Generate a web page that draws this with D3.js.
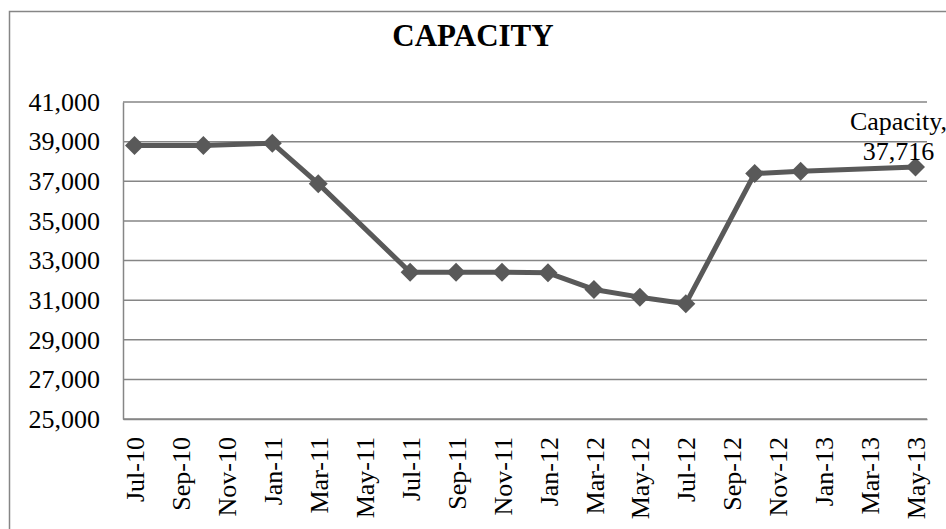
<!DOCTYPE html>
<html>
<head>
<meta charset="utf-8">
<script src="https://cdn.jsdelivr.net/npm/d3@7"></script>
<style>
  body { margin: 0; background: #fff; }
  text { font-family: "Liberation Serif", "Times New Roman", serif; fill: #000; }
</style>
</head>
<body>
<div class="chart"></div>
<script>
// data
var pointMonths = ["Jul-10", "Oct-10", "Jan-11", "Mar-11", "Jul-11", "Sep-11", "Nov-11",
  "Jan-12", "Mar-12", "May-12", "Jul-12", "Oct-12", "Dec-12", "May-13"];
var capacity = [38800, 38800, 38920, 36880, 32410, 32410, 32410,
  32380, 31540, 31150, 30820, 37390, 37500, 37716];
var xTickLabels = ["Jul-10", "Sep-10", "Nov-10", "Jan-11", "Mar-11", "May-11", "Jul-11",
  "Sep-11", "Nov-11", "Jan-12", "Mar-12", "May-12", "Jul-12", "Sep-12", "Nov-12",
  "Jan-13", "Mar-13", "May-13"];
var yTicks = [25000, 27000, 29000, 31000, 33000, 35000, 37000, 39000, 41000];

var svgWidth = 946;
var svgHeight = 529;
var margin = { top: 102, right: 19, bottom: 110, left: 123 };
var width = svgWidth - margin.left - margin.right;
var height = svgHeight - margin.top - margin.bottom;
var serif = "'Liberation Serif', 'Times New Roman', serif";

var parseMonth = d3.timeParse("%b-%y");
var startMonth = parseMonth(xTickLabels[0]);
// month index from the first label, the axis is in whole months
function monthIndex(label) {
  return d3.timeMonth.count(startMonth, parseMonth(label));
}
var lastIndex = monthIndex(xTickLabels[xTickLabels.length - 1]);

var data = pointMonths.map(function(m, i) {
  return { m: monthIndex(m), value: capacity[i] };
});

var svg = d3.select(".chart")
  .append("svg")
  .attr("width", svgWidth)
  .attr("height", svgHeight);

// outer chart border
svg.append("rect")
  .attr("x", 9.5)
  .attr("y", 11.5)
  .attr("width", 945)
  .attr("height", 560)
  .attr("fill", "none")
  .attr("stroke", "#868686")
  .attr("stroke-width", 1.5);

svg.append("text")
  .attr("x", 473)
  .attr("y", 46)
  .attr("text-anchor", "middle")
  .style("font-family", serif)
  .style("font-size", "31px")
  .style("font-weight", "bold")
  .text("CAPACITY");

var chart = svg.append("g")
  .attr("transform", "translate(" + margin.left + "," + margin.top + ")");

var xScale = d3.scaleLinear()
  .domain([-0.5, lastIndex + 0.5])
  .range([0, width]);

var yScale = d3.scaleLinear()
  .domain([25000, 41000])
  .range([height, 0]);

// gridlines
chart.append("g")
  .selectAll("line")
  .data(yTicks)
  .enter()
  .append("line")
  .attr("x1", 0)
  .attr("x2", width)
  .attr("y1", function(d) { return yScale(d); })
  .attr("y2", function(d) { return yScale(d); })
  .attr("stroke", "#868686")
  .attr("stroke-width", 1.5);

// y axis
var leftAxis = d3.axisLeft(yScale)
  .tickValues(yTicks)
  .tickSize(0)
  .tickPadding(23)
  .tickFormat(d3.format(","));

var yAxis = chart.append("g").call(leftAxis).attr("font-family", null);
yAxis.select(".domain").attr("stroke", "#868686").attr("stroke-width", 1.5);
yAxis.selectAll("text")
  .style("font-size", "26px")
  .style("font-family", serif);

// x axis
var bottomAxis = d3.axisBottom(xScale)
  .tickValues(xTickLabels.map(monthIndex))
  .tickSize(0)
  .tickFormat(function(d, i) { return xTickLabels[i]; });

var xAxis = chart.append("g")
  .attr("transform", "translate(0," + height + ")")
  .call(bottomAxis)
  .attr("font-family", null);
xAxis.select(".domain").attr("stroke", "#868686").attr("stroke-width", 1.5);
xAxis.selectAll("text")
  .attr("transform", "rotate(-90)")
  .attr("x", -18)
  .attr("y", 0)
  .attr("dy", "0.35em")
  .attr("text-anchor", "end")
  .style("font-size", "26px")
  .style("font-family", serif);

// the line
var line = d3.line()
  .x(function(d) { return xScale(d.m); })
  .y(function(d) { return yScale(d.value); });

chart.append("path")
  .datum(data)
  .attr("d", line)
  .attr("fill", "none")
  .attr("stroke", "#595959")
  .attr("stroke-width", 5)
  .attr("stroke-linejoin", "round");

// diamond markers
chart.selectAll(".marker")
  .data(data)
  .enter()
  .append("path")
  .attr("class", "marker")
  .attr("d", "M0,-9.5L9.5,0L0,9.5L-9.5,0Z")
  .attr("transform", function(d) {
    return "translate(" + xScale(d.m) + "," + yScale(d.value) + ")";
  })
  .attr("fill", "#595959");

// data label on the last point
var last = data[data.length - 1];
var label = chart.append("text")
  .attr("x", xScale(last.m) - 17)
  .attr("y", yScale(last.value) - 37)
  .attr("text-anchor", "middle")
  .style("font-family", serif)
  .style("font-size", "26px");
label.append("tspan").text("Capacity,");
label.append("tspan")
  .attr("x", xScale(last.m) - 17)
  .attr("dy", 30)
  .text(d3.format(",")(last.value));
</script>
</body>
</html>
